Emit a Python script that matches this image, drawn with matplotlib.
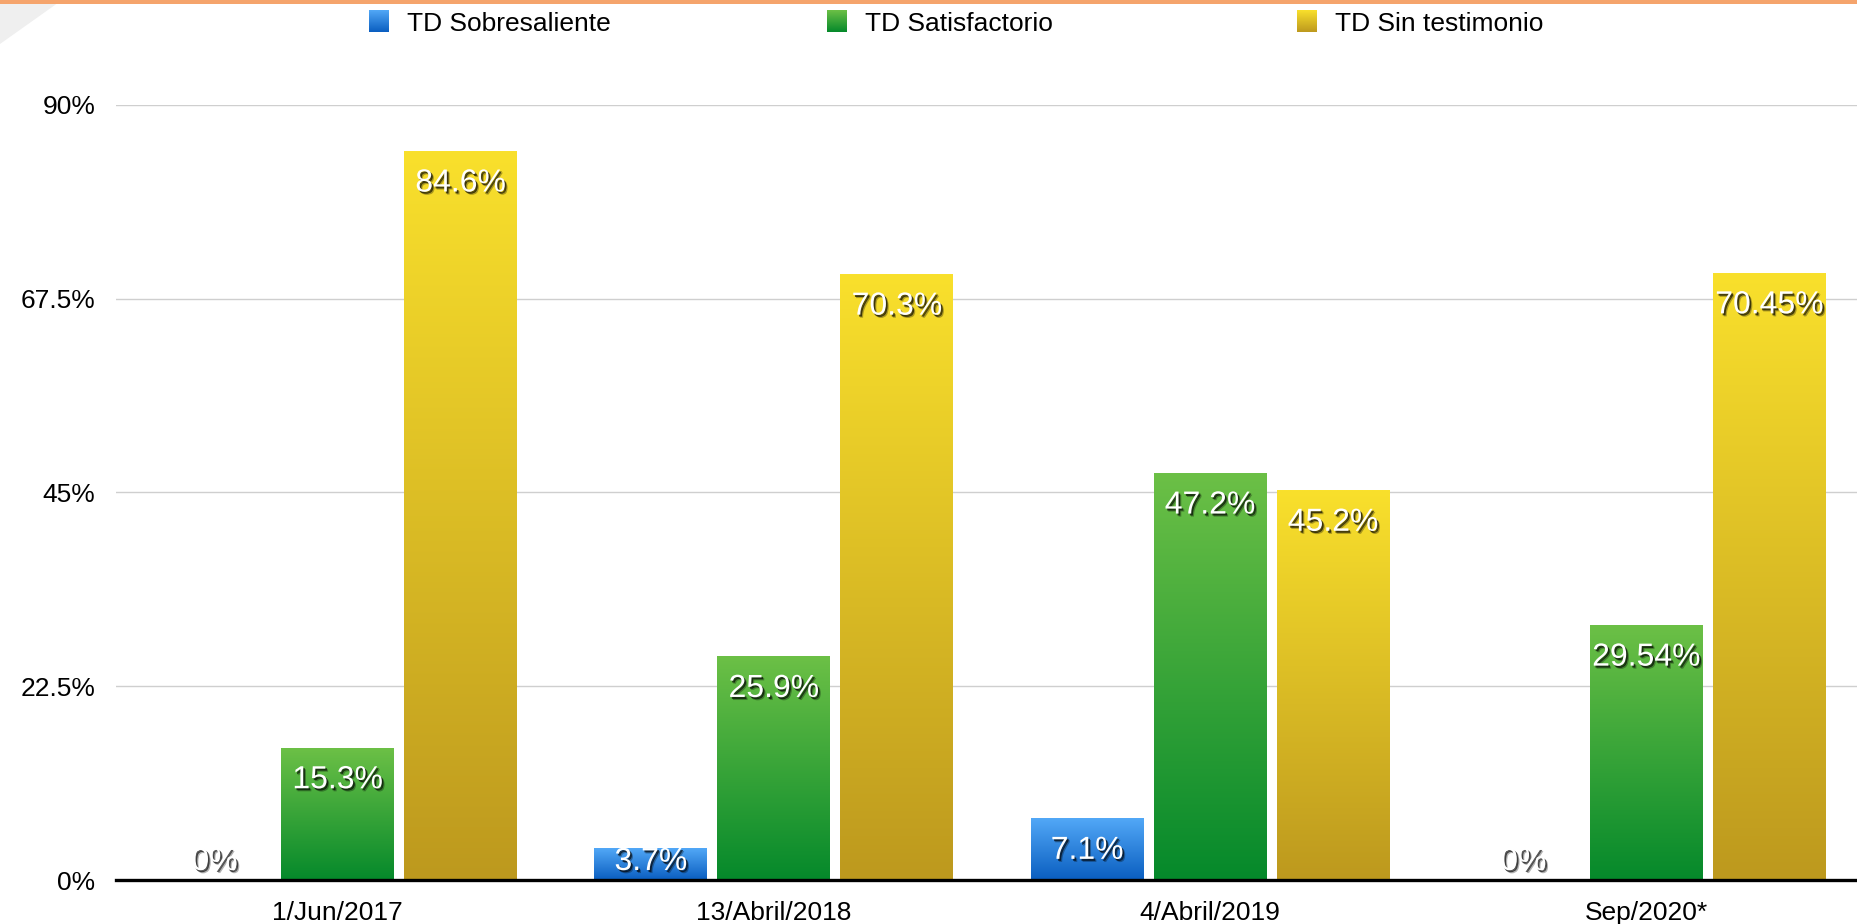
import numpy as np
import matplotlib
matplotlib.use("Agg")
import matplotlib.pyplot as plt
from matplotlib.colors import LinearSegmentedColormap
from matplotlib.patches import Rectangle, Polygon
import matplotlib.patheffects as pe

plt.rcParams['font.family'] = ['Liberation Sans', 'DejaVu Sans']

# ---- data ----
categories = ['1/Jun/2017', '13/Abril/2018', '4/Abril/2019', 'Sep/2020*']
series_names = ['TD Sobresaliente', 'TD Satisfactorio', 'TD Sin testimonio']
sobresaliente = [0, 3.7, 7.1, 0]
satisfactorio = [15.3, 25.9, 47.2, 29.54]
sin_testimonio = [84.6, 70.3, 45.2, 70.45]
ytick_values = [0, 22.5, 45, 67.5, 90]
ytick_labels = ['0%', '22.5%', '45%', '67.5%', '90%']

# ---- styles ----
grad_colors = [('#0a5ec0', '#52a8f7'),   # (bottom, top)
               ('#05892b', '#6cc046'),
               ('#bd991e', '#f9e02c')]
W, H = 1858, 924
fig = plt.figure(figsize=(W / 100, H / 100), dpi=100)
fig.patch.set_facecolor('white')

# top decoration
fig.patches.append(Polygon([[0, 1], [62 / W, 1], [0, 1 - 44 / H]], closed=True,
                           transform=fig.transFigure, facecolor='#efefef',
                           edgecolor='none', zorder=0))
fig.patches.append(Rectangle((0, 1 - 4 / H), 1, 4 / H, transform=fig.transFigure,
                             facecolor='#f5a46c', edgecolor='none', zorder=1))

ax = fig.add_axes([116 / W, 44 / H, 1 - 116 / W, (880 - 105) / H])
for s in ax.spines.values():
    s.set_visible(False)

data = [sobresaliente, satisfactorio, sin_testimonio]
x = np.arange(len(categories))
width = 0.259
step = 0.282
grad = np.linspace(0, 1, 256).reshape(-1, 1)

px_per_unit = (880 - 105) / 90.0

for i, (vals, cols) in enumerate(zip(data, grad_colors)):
    cmap = LinearSegmentedColormap.from_list(f'g{i}', list(cols))
    bars = ax.bar(x + (i - 1) * step, vals, width=width, color='none',
                  edgecolor='none', zorder=2)
    for rect, v in zip(bars, vals):
        x0 = rect.get_x()
        w = rect.get_width()
        h = rect.get_height()
        if h > 0:
            ax.imshow(grad, cmap=cmap, origin='lower', aspect='auto',
                      extent=(x0, x0 + w, 0, h), interpolation='bilinear', zorder=2)
        yb = max(h - 40 / px_per_unit, 10 / px_per_unit)
        t = ax.text(x0 + w / 2, yb, f'{v:g}%', ha='center', va='baseline',
                    color='white', fontsize=23, zorder=5)
        t.set_path_effects([pe.SimplePatchShadow(offset=(2.0, -2.2), shadow_rgbFace='black', alpha=0.3),
                            pe.SimplePatchShadow(offset=(1.2, -1.4), shadow_rgbFace='black', alpha=0.65),
                            pe.Normal()])

ax.set_xlim(-0.508, 3.485)
ax.set_ylim(0, 90)
ax.set_yticks(ytick_values)
ax.set_yticklabels(ytick_labels)
ax.set_xticks(x)
ax.set_xticklabels(categories)
ax.tick_params(axis='y', length=0, pad=15, labelsize=19, labelcolor='black')
ax.tick_params(axis='x', length=0, pad=15, labelsize=19, labelcolor='black')
ax.yaxis.grid(True, color='#cfcfcf', linewidth=1.0, zorder=0)
ax.set_axisbelow(True)
ax.axhline(0, color='black', linewidth=2.4, zorder=6, clip_on=False)

# ---- legend (manual) ----
legend_sq_x = [369, 827, 1297]
legend_tx_x = [407, 865, 1335]
for name, cols, sx, tx in zip(series_names, grad_colors, legend_sq_x, legend_tx_x):
    cmap = LinearSegmentedColormap.from_list('l' + name, list(cols))
    lax = fig.add_axes([sx / W, 1 - 32 / H, 20 / W, 22 / H])
    lax.imshow(grad, cmap=cmap, origin='lower', aspect='auto', interpolation='bilinear')
    lax.axis('off')
    fig.text(tx / W, 1 - 31 / H, name, fontsize=19, va='baseline', ha='left', color='black')

fig.savefig('out.png', dpi=100)
